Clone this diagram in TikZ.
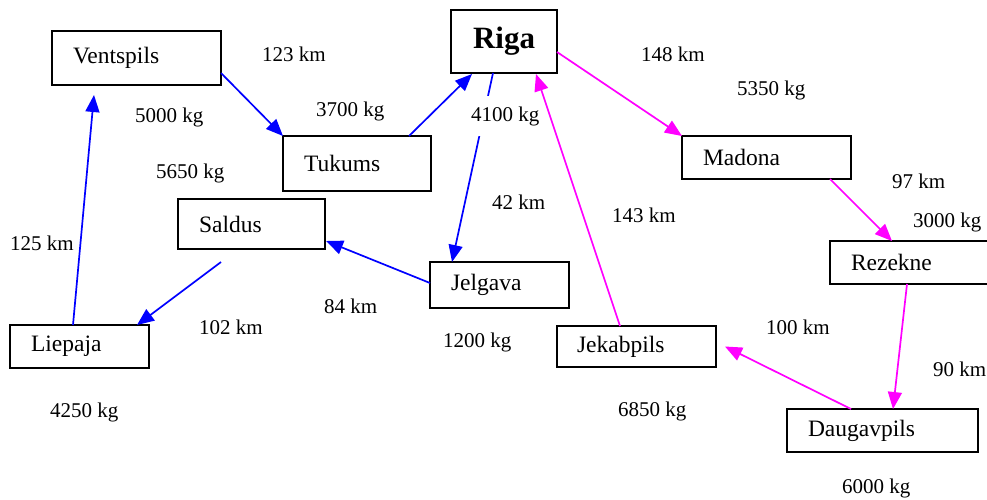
\documentclass[tikz,border=0pt]{standalone}
\usepackage{fontspec}
\setmainfont{Liberation Serif}
\usetikzlibrary{arrows.meta,calc}
\definecolor{eblue}{RGB}{0,0,255}
\definecolor{emag}{RGB}{255,0,255}
\newcommand{\cityfont}{\fontsize{23.5}{27}\selectfont}
\newcommand{\lblfont}{\fontsize{21}{24}\selectfont}
\tikzset{
  citybox/.style 2 args={draw, line width=1.7pt, outer sep=0pt, anchor=north west,
    minimum height=#2, text width=#1, inner xsep=21pt, inner ysep=0pt, align=left, font=\cityfont},
  lbl/.style={anchor=west, inner sep=1pt, font=\lblfont},
  bluearrow/.style={draw=eblue, line width=1.7pt, -{Triangle[length=17pt,width=14pt]}, color=eblue},
  magarrow/.style={draw=emag, line width=1.7pt, -{Triangle[length=17pt,width=14pt]}, color=emag},
}
\begin{document}
\begin{tikzpicture}[x=1pt,y=-1pt]
\useasboundingbox (0,0) rectangle (987,499);
\clip (0,0) rectangle (987,499);
% city boxes
\node[citybox={127pt}{54pt}] (ventspils) at (52,31) {Ventspils};
\node[citybox={106pt}{55pt}] (tukums) at (283,136) {Tukums};
\node[draw, line width=1.7pt, outer sep=0pt, anchor=north west, minimum width=106pt, minimum height=63pt, inner sep=0pt,
      font=\bfseries\fontsize{31}{36}\selectfont] (riga) at (451,10) {Riga};
\node[citybox={127pt}{43pt}] (madona) at (682,136) {Madona};
\node[citybox={105pt}{50pt}] (saldus) at (178,199) {Saldus};
\node[citybox={97pt}{46pt}] (jelgava) at (430,262) {Jelgava};
\node[citybox={119pt}{41pt}, inner xsep=20pt] (jekabpils) at (557,326) {Jekabpils};
\node[citybox={128pt}{43pt}] (rezekne) at (830,241) {Rezekne};
\node[citybox={149pt}{43pt}] (daugavpils) at (787,409) {Daugavpils};
\node[citybox={97pt}{43pt}] (liepaja) at (10,325) {Liepaja};

\coordinate (saldusout) at ($(saldus.south west)+(43,13)$);

% blue connectors
\draw[bluearrow] ($(ventspils.east)+(0,15)$) -- (tukums.north west);
\draw[bluearrow] ($(tukums.north west)+(126,0)$) -- ($(riga.south west)+(21,1)$);
\draw[bluearrow] ($(riga.south west)+(42,0)$) -- ($(jelgava.north west)+(22,0)$);
\draw[bluearrow] ($(jelgava.north west)+(0,21)$) -- ($(saldus.north east)+(1,42)$);
\draw[bluearrow] (saldusout) -- ($(liepaja.north west)+(127,0)$);
\draw[bluearrow] ($(liepaja.north west)+(63,0)$) -- ($(ventspils.south west)+(42,10)$);
% magenta connectors
\draw[magarrow] ($(riga.north east)+(0,42)$) -- (madona.north west);
\draw[magarrow] ($(madona.south west)+(148,0)$) -- ($(rezekne.north west)+(62,0)$);
\draw[magarrow] ($(rezekne.south west)+(77,0)$) -- ($(daugavpils.north west)+(106,0)$);
\draw[magarrow] ($(daugavpils.north west)+(64,0)$) -- ($(jekabpils.east)+(9,0)$);
\draw[magarrow] ($(jekabpils.north west)+(63,0)$) -- ($(riga.south west)+(85,1)$);

% labels
\node[lbl] (l123) at (261,54) {123 km};
\node[lbl] (l5000) at (134,117) {5000 kg};
\node[lbl] (l3700) at (315,111) {3700 kg};
\node[lbl] (l5650) at (155,173) {5650 kg};
\node[lbl, fill=white, inner ysep=10pt] (l4100) at (470,116) {4100 kg};
\node[lbl] (l148) at (640,54) {148 km};
\node[lbl] (l5350) at (736,90) {5350 kg};
\node[lbl] (l97) at (891,181) {97 km};
\begin{scope}
\clip (880,200) rectangle (987,232);
\node[lbl] (l3000) at (912,222) {3000 kg};
\end{scope}
\node[lbl] (l42) at (491,202) {42 km};
\node[lbl] (l143) at (611,215) {143 km};
\node[lbl] (l125) at (9,243) {125 km};
\node[lbl] (l102) at (198,327) {102 km};
\node[lbl] (l84) at (323,306) {84 km};
\node[lbl] (l1200) at (442,342) {1200 kg};
\node[lbl] (l100) at (765,327) {100 km};
\node[lbl] (l90) at (932,369) {90 km};
\node[lbl] (l4250) at (49,412) {4250 kg};
\node[lbl] (l6850) at (617,411) {6850 kg};
\node[lbl] (l6000) at (841,488) {6000 kg};
\end{tikzpicture}
\end{document}
